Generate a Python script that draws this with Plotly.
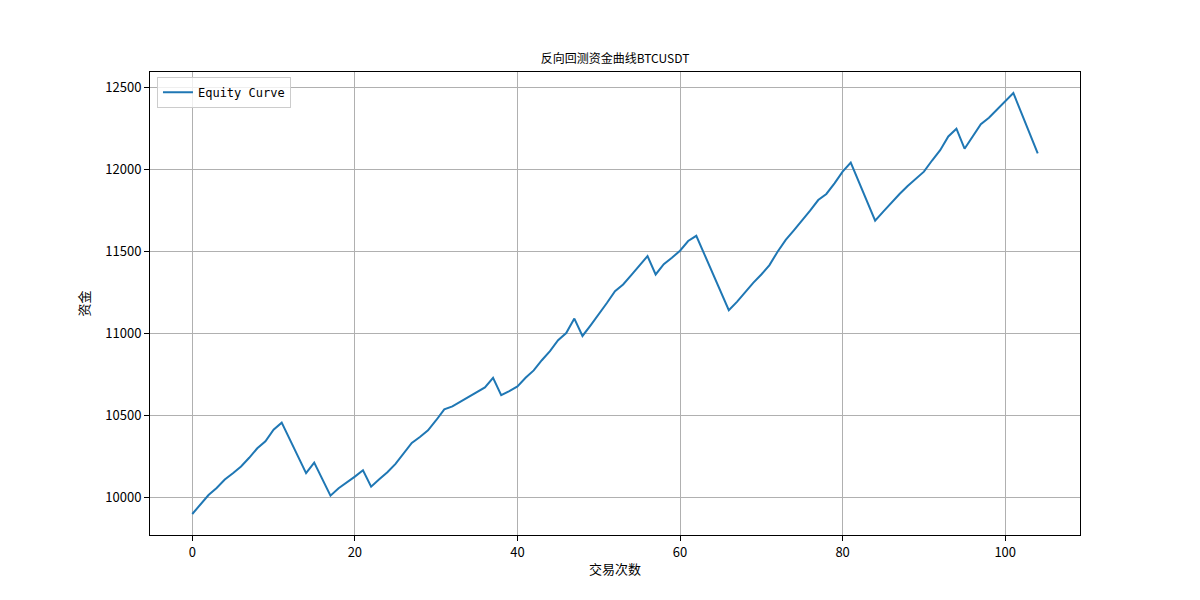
import plotly.graph_objects as go

trade_idx = list(range(105))
equity = [
    9900, 9960, 10016, 10059, 10110, 10149, 10190, 10243, 10301, 10344,
    10414, 10457, 10354, 10251, 10149, 10214, 10113, 10012, 10057, 10090,
    10128, 10167, 10067, 10112, 10155, 10206, 10271, 10334, 10370, 10410,
    10472, 10538, 10556, 10585, 10617, 10645, 10672, 10731, 10625, 10650,
    10678, 10731, 10776, 10838, 10893, 10960, 11004, 11092, 10986, 11051,
    11117, 11187, 11259, 11300, 11357, 11418, 11473, 11361, 11424, 11463,
    11506, 11565, 11597, 11484, 11370, 11257, 11143, 11194, 11255, 11310,
    11361, 11418, 11500, 11572, 11630, 11689, 11750, 11815, 11852, 11917,
    11988, 12043, 11925, 11807, 11689, 11744, 11799, 11852, 11901, 11944,
    11988, 12056, 12119, 12203, 12250, 12128, 12203, 12277, 12317, 12366,
    12413, 12468, 12345, 12223, 12100,
]
x_ticks = [0, 20, 40, 60, 80, 100]
y_ticks = [10000, 10500, 11000, 11500, 12000, 12500]
y_tick_labels = ["10000", "10500", "11000", "11500", "12000", "12500"]

FONT = "Noto Sans CJK SC, DejaVu Sans, sans-serif"

fig = go.Figure()
fig.add_trace(go.Scatter(
    x=trade_idx, y=equity, mode="lines", name="Equity Curve",
    line=dict(color="#1f77b4", width=2),
))

axis_common = dict(
    showgrid=True, gridcolor="#b0b0b0", gridwidth=1,
    showline=True, linecolor="black", linewidth=1, mirror=True,
    ticks="outside", ticklen=5, tickcolor="black", tickwidth=1,
    zeroline=False, tickfont=dict(family=FONT, size=13, color="black"),
)

fig.update_layout(
    width=1200, height=600,
    paper_bgcolor="white", plot_bgcolor="white",
    margin=dict(l=142, r=128, t=64, b=73),
    title=dict(text="反向回测资金曲线BTCUSDT", x=607 / 1200, xanchor="center",
               y=1 - 51 / 600, yanchor="middle",
               font=dict(family=FONT, size=12, color="black")),
    xaxis=dict(range=[-5.2, 109.2], tickvals=x_ticks,
               title=dict(text="交易次数", font=dict(family=FONT, size=13, color="black"), standoff=5),
               **axis_common),
    yaxis=dict(range=[9772, 12596], tickvals=y_ticks, ticktext=y_tick_labels,
               title=dict(text="资金", font=dict(family=FONT, size=13, color="black"), standoff=12),
               **axis_common),
    showlegend=True,
    legend=dict(x=0.0075, y=0.99, xanchor="left", yanchor="top",
                bgcolor="rgba(255,255,255,0.8)", bordercolor="#cccccc", borderwidth=1,
                tracegroupgap=0,
                font=dict(family="DejaVu Sans Mono, monospace", size=12, color="black")),
)

fig.write_html("out.html")
